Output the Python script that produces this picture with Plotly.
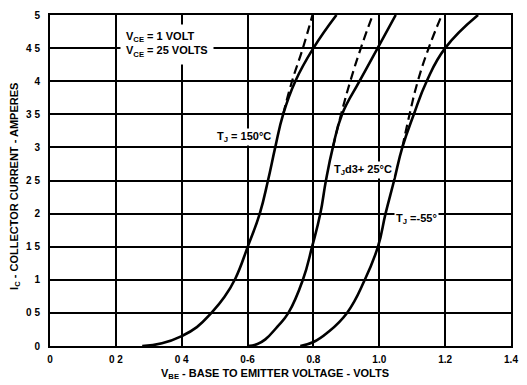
import plotly.graph_objects as go

# ---- data (V_BE in volts, I_C in amperes) ----
v_150 = [0.28, 0.34, 0.40, 0.446, 0.49, 0.529, 0.563, 0.602, 0.637, 0.662, 0.684, 0.708, 0.745, 0.80, 0.87]
i_150 = [0.0, 0.04, 0.15, 0.285, 0.5, 0.735, 1.02, 1.52, 2.0, 2.5, 3.0, 3.5, 4.0, 4.5, 5.0]
v_150_d = [0.708, 0.735, 0.768, 0.797]
i_150_d = [3.5, 4.0, 4.5, 5.0]

v_25 = [0.60, 0.63, 0.654, 0.69, 0.724, 0.768, 0.796, 0.821, 0.838, 0.859, 0.887, 0.94, 0.995, 1.05]
i_25 = [0.0, 0.03, 0.1, 0.29, 0.5, 1.0, 1.5, 2.0, 2.5, 3.0, 3.5, 4.0, 4.5, 5.0]
v_25_d = [0.859, 0.884, 0.912, 0.944, 0.98]
i_25_d = [3.0, 3.5, 4.0, 4.5, 5.0]

v_m55 = [0.76, 0.80, 0.842, 0.902, 0.956, 0.996, 1.019, 1.045, 1.07, 1.105, 1.144, 1.20, 1.30]
i_m55 = [0.0, 0.06, 0.2, 0.5, 1.0, 1.5, 2.0, 2.5, 3.0, 3.5, 4.0, 4.5, 5.0]
v_m55_d = [1.07, 1.092, 1.117, 1.15, 1.19]
i_m55_d = [3.0, 3.5, 4.0, 4.5, 5.0]

x_tickvals = [0, 0.2, 0.4, 0.6, 0.8, 1.0, 1.2, 1.4]
x_ticktext = ["0", "0 2", "0 4", "0-6", "0.8", "1.0", "1.2", "1.4"]
y_tickvals = [0, 0.5, 1, 1.5, 2, 2.5, 3, 3.5, 4, 4.5, 5]
y_ticktext = ["0", "0 5", "1", "1 5", "2", "2 5", "3", "3 5", "4", "4 5", "5"]

FONT = "Liberation Sans"
fig = go.Figure()

solid = dict(color="black", width=2.6, shape="spline", smoothing=1.3)
dashed = dict(color="black", width=2.2, dash="9px,5px", shape="spline", smoothing=1.3)

for v, i in [(v_150, i_150), (v_25, i_25), (v_m55, i_m55)]:
    fig.add_trace(go.Scatter(x=v, y=i, mode="lines", line=solid, showlegend=False, hoverinfo="skip"))
for v, i in [(v_150_d, i_150_d), (v_25_d, i_25_d), (v_m55_d, i_m55_d)]:
    fig.add_trace(go.Scatter(x=v, y=i, mode="lines", line=dashed, showlegend=False, hoverinfo="skip"))

axis_common = dict(showgrid=True, gridcolor="black", gridwidth=1.6, zeroline=False,
                   showline=True, linecolor="black", linewidth=2, mirror=True,
                   ticks="", tickfont=dict(family=FONT, size=10, color="black", weight="bold"))

fig.update_xaxes(range=[0, 1.4], tickvals=x_tickvals, ticktext=x_ticktext, ticklabelstandoff=3, **axis_common)
fig.update_yaxes(range=[0, 5], tickvals=y_tickvals, ticktext=y_ticktext, ticklabelstandoff=6, **axis_common)

ann_font = dict(family=FONT, size=11, color="black", weight="bold")
fig.add_annotation(x=0.213, y=4.55, xref="x", yref="y", xanchor="left", yanchor="middle", align="left",
                   text="V<sub>CE</sub> = 1 VOLT<br>V<sub>CE</sub> = 25 VOLTS", showarrow=False,
                   font=ann_font, bgcolor="white", borderpad=5)
fig.add_annotation(x=0.5, y=3.15, xref="x", yref="y", xanchor="left", yanchor="middle",
                   text="T<sub>J</sub> = 150°C", showarrow=False, font=ann_font, bgcolor="white", borderpad=1)
fig.add_annotation(x=0.855, y=2.66, xref="x", yref="y", xanchor="left", yanchor="middle",
                   text="T<sub>J</sub>d3+ 25°C", showarrow=False, font=ann_font, bgcolor="white", borderpad=1)
fig.add_annotation(x=1.045, y=1.92, xref="x", yref="y", xanchor="left", yanchor="middle",
                   text="T<sub>J</sub> =-55°", showarrow=False, font=ann_font, bgcolor="white", borderpad=1)

# axis titles
fig.add_annotation(x=0.487, y=-0.085, xref="paper", yref="paper", xanchor="center", yanchor="middle",
                   text="V<sub>BE</sub> - BASE TO EMITTER VOLTAGE - VOLTS", showarrow=False, font=ann_font)
fig.add_annotation(x=-0.075, y=0.482, xref="paper", yref="paper", xanchor="center", yanchor="middle",
                   text="I<sub>C</sub> - COLLECTOR CURRENT - AMPERES", textangle=-90, showarrow=False, font=ann_font)

fig.update_layout(width=527, height=385, margin=dict(l=50, r=9, t=12, b=39),
                  plot_bgcolor="white", paper_bgcolor="white", showlegend=False)

fig.write_html("out.html")
